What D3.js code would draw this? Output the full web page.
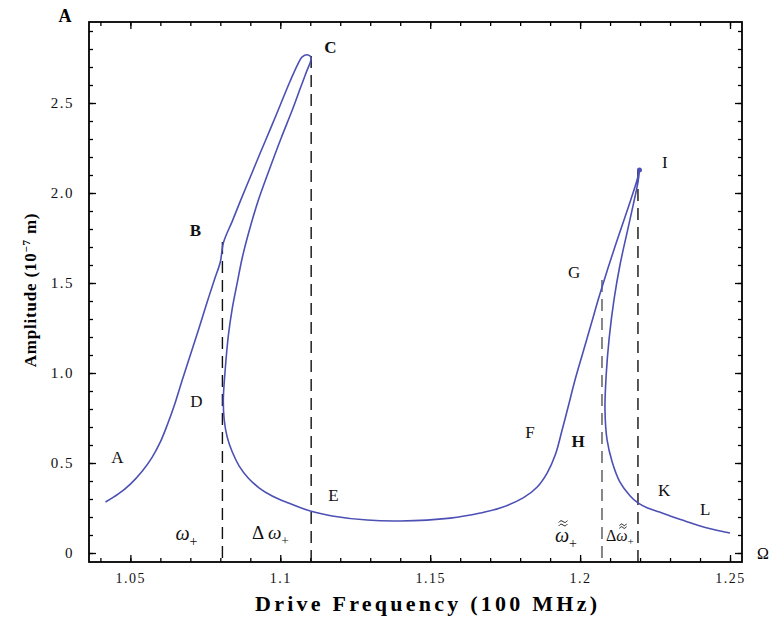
<!DOCTYPE html>
<html>
<head>
<meta charset="utf-8">
<script src="https://cdn.jsdelivr.net/npm/d3@7"></script>
<style>
  body { margin: 0; background: #fff; }
  text { font-family: "Liberation Serif", "DejaVu Serif", serif; }
</style>
</head>
<body>
<div id="chart"></div>
<script>
// Curve pieces: [drive frequency (100 MHz), amplitude (1e-7 m)]
const risingToC = [
  [1.0417,0.283],[1.046,0.328],[1.050,0.383],[1.054,0.456],[1.0573,0.533],[1.060,0.617],
  [1.0623,0.711],[1.0647,0.822],[1.0673,0.961],[1.070,1.1],[1.0727,1.239],[1.0753,1.378],
  [1.078,1.517],[1.080,1.617],[1.081,1.722],[1.084,1.844],[1.0867,1.956],[1.090,2.089],
  [1.0933,2.222],[1.0967,2.356],[1.100,2.489],[1.1033,2.622],[1.1057,2.711],[1.1073,2.756],
  [1.1093,2.767],[1.1103,2.75]
];
const backFromC = [
  [1.1087,2.672],[1.1067,2.583],[1.104,2.461],[1.1003,2.306],[1.0963,2.128],[1.0927,1.961],
  [1.0897,1.794],[1.0873,1.639],[1.0857,1.506],[1.084,1.361],[1.0827,1.211],[1.0817,1.033],
  [1.081,0.85],[1.0813,0.739],[1.0823,0.644],[1.084,0.561],[1.0863,0.483],[1.0893,0.417],
  [1.093,0.361],[1.0973,0.317],[1.1027,0.278],[1.110,0.233],[1.1173,0.206],[1.129,0.183],
  [1.140,0.178]
];
const risingToI = [
  [1.1567,0.194],[1.1667,0.222],[1.1733,0.25],[1.181,0.306],[1.1857,0.367],[1.189,0.444],
  [1.1917,0.544],[1.194,0.683],[1.196,0.811],[1.1983,0.961],[1.201,1.117],[1.2037,1.272],
  [1.2063,1.422],[1.209,1.567],[1.2117,1.706],[1.2143,1.833],[1.217,1.967],[1.219,2.072],
  [1.2198,2.128]
];
const backFromI = [
  [1.2193,2.061],[1.2177,1.933],[1.2157,1.783],[1.2133,1.6],[1.2113,1.406],[1.2097,1.194],
  [1.2087,0.989],[1.2083,0.794],[1.209,0.628],[1.2107,0.506],[1.2133,0.394],[1.2167,0.317],
  [1.2193,0.278],[1.2225,0.25],[1.2265,0.228],[1.2305,0.203],[1.235,0.178],[1.2395,0.153],
  [1.2445,0.131],[1.250,0.111]
];

// jump frequencies and the amplitude where each dashed line stops
const jumpFreq = [1.0807, 1.1103, 1.2073, 1.2193];
const jumpTop  = [1.728, 2.761, 1.517, 2.128];

const xTicks = [1.05, 1.1, 1.15, 1.2, 1.25];
const xTickLabels = ["1.05", "1.1", "1.15", "1.2", "1.25"];
const yTicks = [0, 0.5, 1, 1.5, 2, 2.5];
const yTickLabels = ["0", "0.5", "1.0", "1.5", "2.0", "2.5"];

// point letters
const letters = ["A","B","C","D","E","F","G","H","I","K","L"];
const letterFreq = [1.0457,1.0717,1.1167,1.072,1.1177,1.1833,1.198,1.1993,1.2283,1.228,1.2417];
const letterAmp  = [0.528,1.794,2.806,0.839,0.322,0.672,1.561,0.622,2.172,0.35,0.244];
const letterBold = [false,true,true,false,false,false,false,true,false,false,false];

const width = 770, height = 618;
const mLeft = 89, mRight = 742, mTop = 22, mBottom = 562;

const x = d3.scaleLinear().domain([1.0362, 1.254]).range([mLeft, mRight]);
const y = d3.scaleLinear().domain([-0.05, 2.95]).range([mBottom, mTop]);

const svg = d3.select("#chart").append("svg")
  .attr("width", width)
  .attr("height", height)
  .style("background", "#fff");

// minor ticks
const xMinor = d3.range(104, 126).map(d => d / 100);
const yMinor = d3.range(0, 30).map(d => d / 10);

function axisGroup(axis, tx, ty, fontSize) {
  const g = svg.append("g").attr("transform", `translate(${tx},${ty})`).call(axis);
  g.select(".domain").remove();
  g.selectAll("line").attr("stroke", "#000").attr("stroke-width", 1.3);
  g.selectAll("text").attr("fill", "#111").style("font-size", (fontSize || 14) + "px")
    .style("letter-spacing", "1.5px");
  return g;
}

axisGroup(d3.axisBottom(x).tickValues(xMinor).tickSize(-4).tickFormat(""), 0, mBottom);
axisGroup(d3.axisTop(x).tickValues(xMinor).tickSize(-4).tickFormat(""), 0, mTop);
axisGroup(d3.axisLeft(y).tickValues(yMinor).tickSize(-4).tickFormat(""), mLeft, 0);
axisGroup(d3.axisRight(y).tickValues(yMinor).tickSize(-4).tickFormat(""), mRight, 0);

axisGroup(d3.axisBottom(x).tickValues(xTicks).tickSize(-7).tickPadding(11)
  .tickFormat((d, i) => xTickLabels[i]), 0, mBottom, 14);
axisGroup(d3.axisTop(x).tickValues(xTicks).tickSize(-7).tickFormat(""), 0, mTop);
axisGroup(d3.axisLeft(y).tickValues(yTicks).tickSize(-7).tickPadding(15)
  .tickFormat((d, i) => yTickLabels[i]), mLeft, 0, 15);
axisGroup(d3.axisRight(y).tickValues(yTicks).tickSize(-7).tickFormat(""), mRight, 0);

// frame
svg.append("rect")
  .attr("x", mLeft).attr("y", mTop)
  .attr("width", mRight - mLeft).attr("height", mBottom - mTop)
  .attr("fill", "none").attr("stroke", "#000").attr("stroke-width", 1.8);

// dashed jump lines
svg.selectAll(".jump")
  .data(jumpFreq)
  .enter().append("line")
  .attr("class", "jump")
  .attr("x1", d => x(d)).attr("x2", d => x(d))
  .attr("y1", (d, i) => y(jumpTop[i]))
  .attr("y2", mBottom)
  .attr("stroke", (d, i) => i === 2 ? "#555" : "#111")
  .attr("stroke-width", 1.4)
  .attr("stroke-dasharray", "12,7");

// response curve
const curve = risingToC.concat(backFromC, risingToI, backFromI);
const line = d3.line()
  .x(d => x(d[0]))
  .y(d => y(d[1]))
  .curve(d3.curveCatmullRom.alpha(0.5));

svg.append("path")
  .datum(curve)
  .attr("d", line)
  .attr("fill", "none")
  .attr("stroke", "#4c50b4")
  .attr("stroke-width", 1.6)
  .attr("stroke-linejoin", "round");

svg.append("circle")
  .attr("cx", x(risingToI[risingToI.length - 1][0]))
  .attr("cy", y(risingToI[risingToI.length - 1][1]))
  .attr("r", 2.5)
  .attr("fill", "#4c50b4");

// letters
svg.selectAll(".letter")
  .data(letters)
  .enter().append("text")
  .attr("class", "letter")
  .attr("x", (d, i) => x(letterFreq[i]))
  .attr("y", (d, i) => y(letterAmp[i]))
  .attr("text-anchor", "middle")
  .attr("dominant-baseline", "central")
  .attr("font-weight", (d, i) => letterBold[i] ? "bold" : "normal")
  .style("font-size", "17px")
  .attr("fill", "#111")
  .text(d => d);

// omega labels, with small drawn tildes above where needed
const wave = d3.line().curve(d3.curveBasis);
function omega(f, a, prefix, tildes, size) {
  const g = svg.append("g").attr("transform", `translate(${x(f)},${y(a)})`);
  const t = g.append("text")
    .attr("text-anchor", "middle")
    .attr("dominant-baseline", "central")
    .style("font-size", size + "px")
    .attr("fill", "#111");
  t.append("tspan").text(prefix);
  t.append("tspan").attr("font-style", "italic").text("ω");
  t.append("tspan").attr("dy", size * 0.4).style("font-size", (size * 0.7) + "px").text("+");
  if (tildes) {
    const ext = t.node().getExtentOfChar(prefix.length);
    const cx = ext.x + ext.width / 2 + 1;
    const hw = size * 0.22;
    for (let k = 0; k < tildes; k++) {
      const ty = ext.y + 1 - k * size * 0.17;
      g.append("path")
        .attr("d", wave([[cx - hw, ty + 1], [cx - hw / 2, ty - 1.5], [cx, ty], [cx + hw / 2, ty + 1.5], [cx + hw, ty - 1]]))
        .attr("fill", "none")
        .attr("stroke", "#222")
        .attr("stroke-width", 1);
    }
  }
}
omega(1.0687, 0.111, "", 0, 20);
omega(1.0967, 0.117, "Δ ", 0, 19);
omega(1.1953, 0.1, "", 2, 20);
omega(1.2133, 0.1, "Δ", 2, 16);

// axis titles
svg.append("text")
  .attr("x", 65).attr("y", 22)
  .attr("text-anchor", "middle")
  .attr("font-weight", "bold")
  .style("font-size", "18px")
  .text("A");

svg.append("text")
  .attr("x", 763).attr("y", 553)
  .attr("text-anchor", "middle")
  .attr("dominant-baseline", "central")
  .style("font-size", "16px")
  .text("Ω");

svg.append("text")
  .attr("x", 426).attr("y", 611)
  .attr("text-anchor", "middle")
  .attr("font-weight", "bold")
  .style("font-size", "22px")
  .attr("textLength", 342)
  .attr("lengthAdjust", "spacing")
  .text("Drive Frequency (100 MHz)");

const yt = svg.append("text")
  .attr("transform", "translate(36,290) rotate(-90)")
  .attr("text-anchor", "middle")
  .attr("font-weight", "bold")
  .style("font-size", "17px")
  .style("letter-spacing", "0.8px");
yt.append("tspan").text("Amplitude (10");
yt.append("tspan").attr("dy", -6).style("font-size", "11px").text("−7");
yt.append("tspan").attr("dy", 6).text(" m)");
</script>
</body>
</html>
